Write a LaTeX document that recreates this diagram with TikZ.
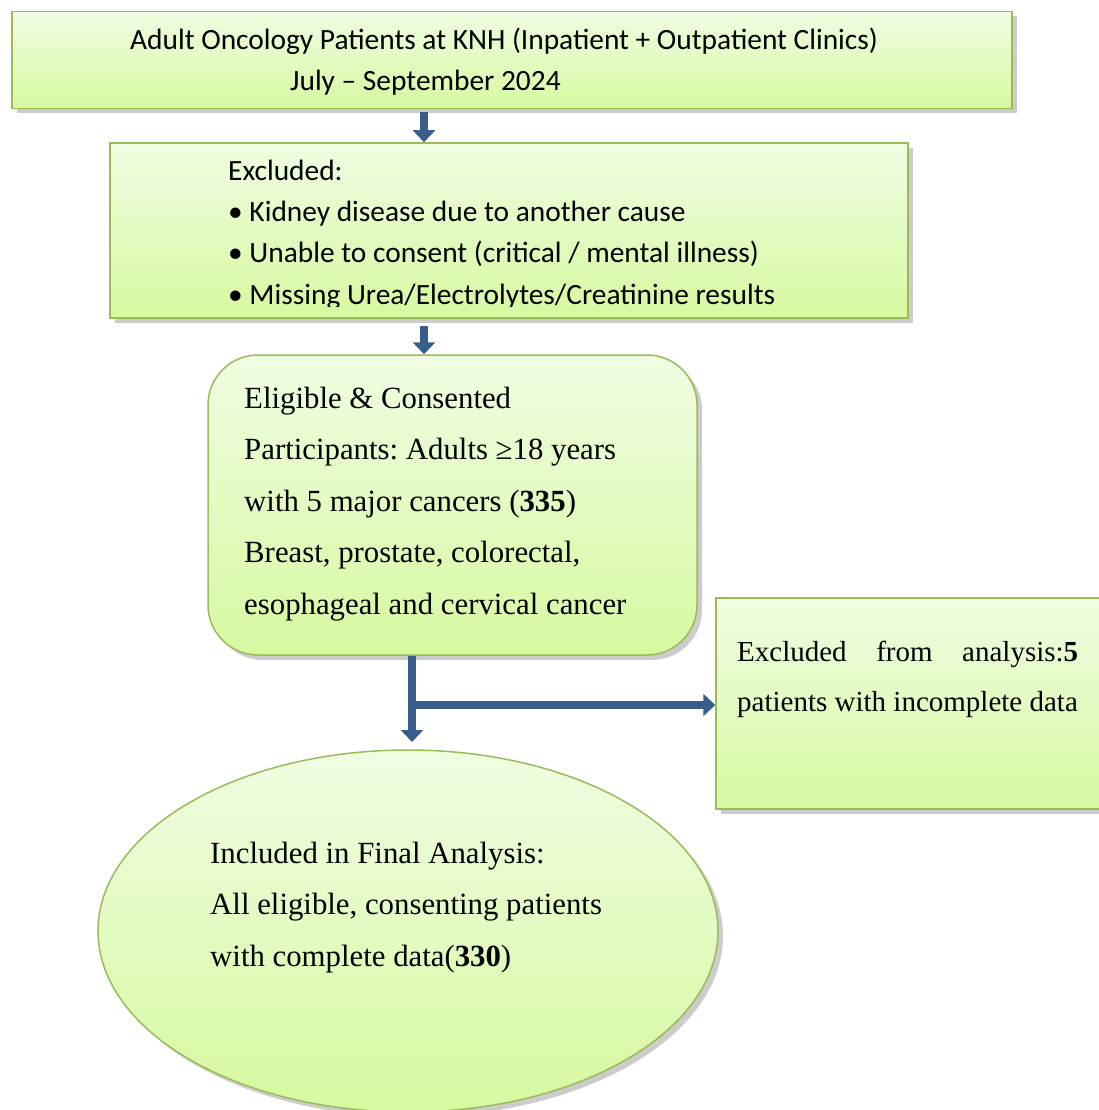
\documentclass[tikz,border=0pt]{standalone}
\usepackage{fontspec}
\setmainfont{Liberation Serif}
\newfontfamily\calibri{Carlito}
\usetikzlibrary{shapes.geometric,shadows,arrows.meta}
\frenchspacing

\definecolor{boxline}{RGB}{155,187,89}
\definecolor{boxtop}{RGB}{240,252,226}
\definecolor{boxbot}{RGB}{214,249,160}
\definecolor{flowblue}{RGB}{56,93,138}

\tikzset{
  box/.style={draw=boxline, line width=1.5pt, top color=boxtop, bottom color=boxbot,
    drop shadow={shadow xshift=5pt, shadow yshift=-5pt, opacity=0.4}},
  % base anchor of a multi-line node = baseline of its last line
  txt/.style={anchor=base west, inner sep=0pt, align=left},
  sans/.style={font=\calibri\fontsize{29.4}{41.3}\selectfont},
  serif/.style={font=\fontsize{30.8}{51.5}\selectfont},
  flow/.style={draw=flowblue, line width=8pt, -{Triangle[width=22pt,length=12pt]}}
}

\begin{document}
\begin{tikzpicture}[x=1pt,y=-1pt]
      \useasboundingbox (0,0) rectangle (1098,1110);

      \node[box, minimum width=1000pt, minimum height=97pt] (1) at (512,60) {};
      \node[box, minimum width=798pt, minimum height=175pt] (2) at (509,230.5) {};
      \node[box, rounded corners=50pt, minimum width=489pt, minimum height=300pt] (3) at (452.5,505) {};
      \node[box, minimum width=420pt, minimum height=211pt] (4) at (926,703.5) {};
      \node[box, ellipse, minimum width=620pt, minimum height=362pt] (5) at (408,931) {};

      \node[txt, sans] (t1) at (130,90.5) {Adult Oncology Patients at KNH (Inpatient + Outpatient Clinics)\\
        \hspace*{160pt}July – September 2024};
      \begin{scope}
        \clip (2.north west) rectangle (908,306);
        \node[txt, sans] (t2) at (228,304) {Excluded:\\
          • Kidney disease due to another cause\\
          • Unable to consent (critical / mental illness)\\
          • Missing Urea/Electrolytes/Creatinine results};
      \end{scope}
      \node[txt, serif] (t3) at (244,614) {Eligible \& Consented\\
        Participants: Adults ≥18 years\\
        with 5 major cancers (\textbf{335})\\
        Breast, prostate, colorectal,\\
        esophageal and cervical cancer};
      \node[txt, font=\fontsize{29}{50}\selectfont] (t4) at (737,711) {\makebox[341pt][s]{Excluded from analysis:\textbf{5}}\\
        patients with incomplete data};
      \node[txt, serif] (t5) at (210,966) {Included in Final Analysis:\\
        All eligible, consenting patients\\
        with complete data(\textbf{330})};

      \coordinate (c1) at (412,742);
      \coordinate (c2) at (416,705);

      \draw[flow] ([xshift=-88pt,yshift=-3pt]1.south) -- ([xshift=-85pt]2.north);
      \draw[flow] ([xshift=-85pt,yshift=-7pt]2.south) -- ([xshift=-28.5pt]3.north);
      \draw[flow] ([xshift=-40.5pt]3.south) -- (c1);
      \draw[flow] (c2) -- (c2 -| 4.west);
    \end{tikzpicture}
\end{document}
